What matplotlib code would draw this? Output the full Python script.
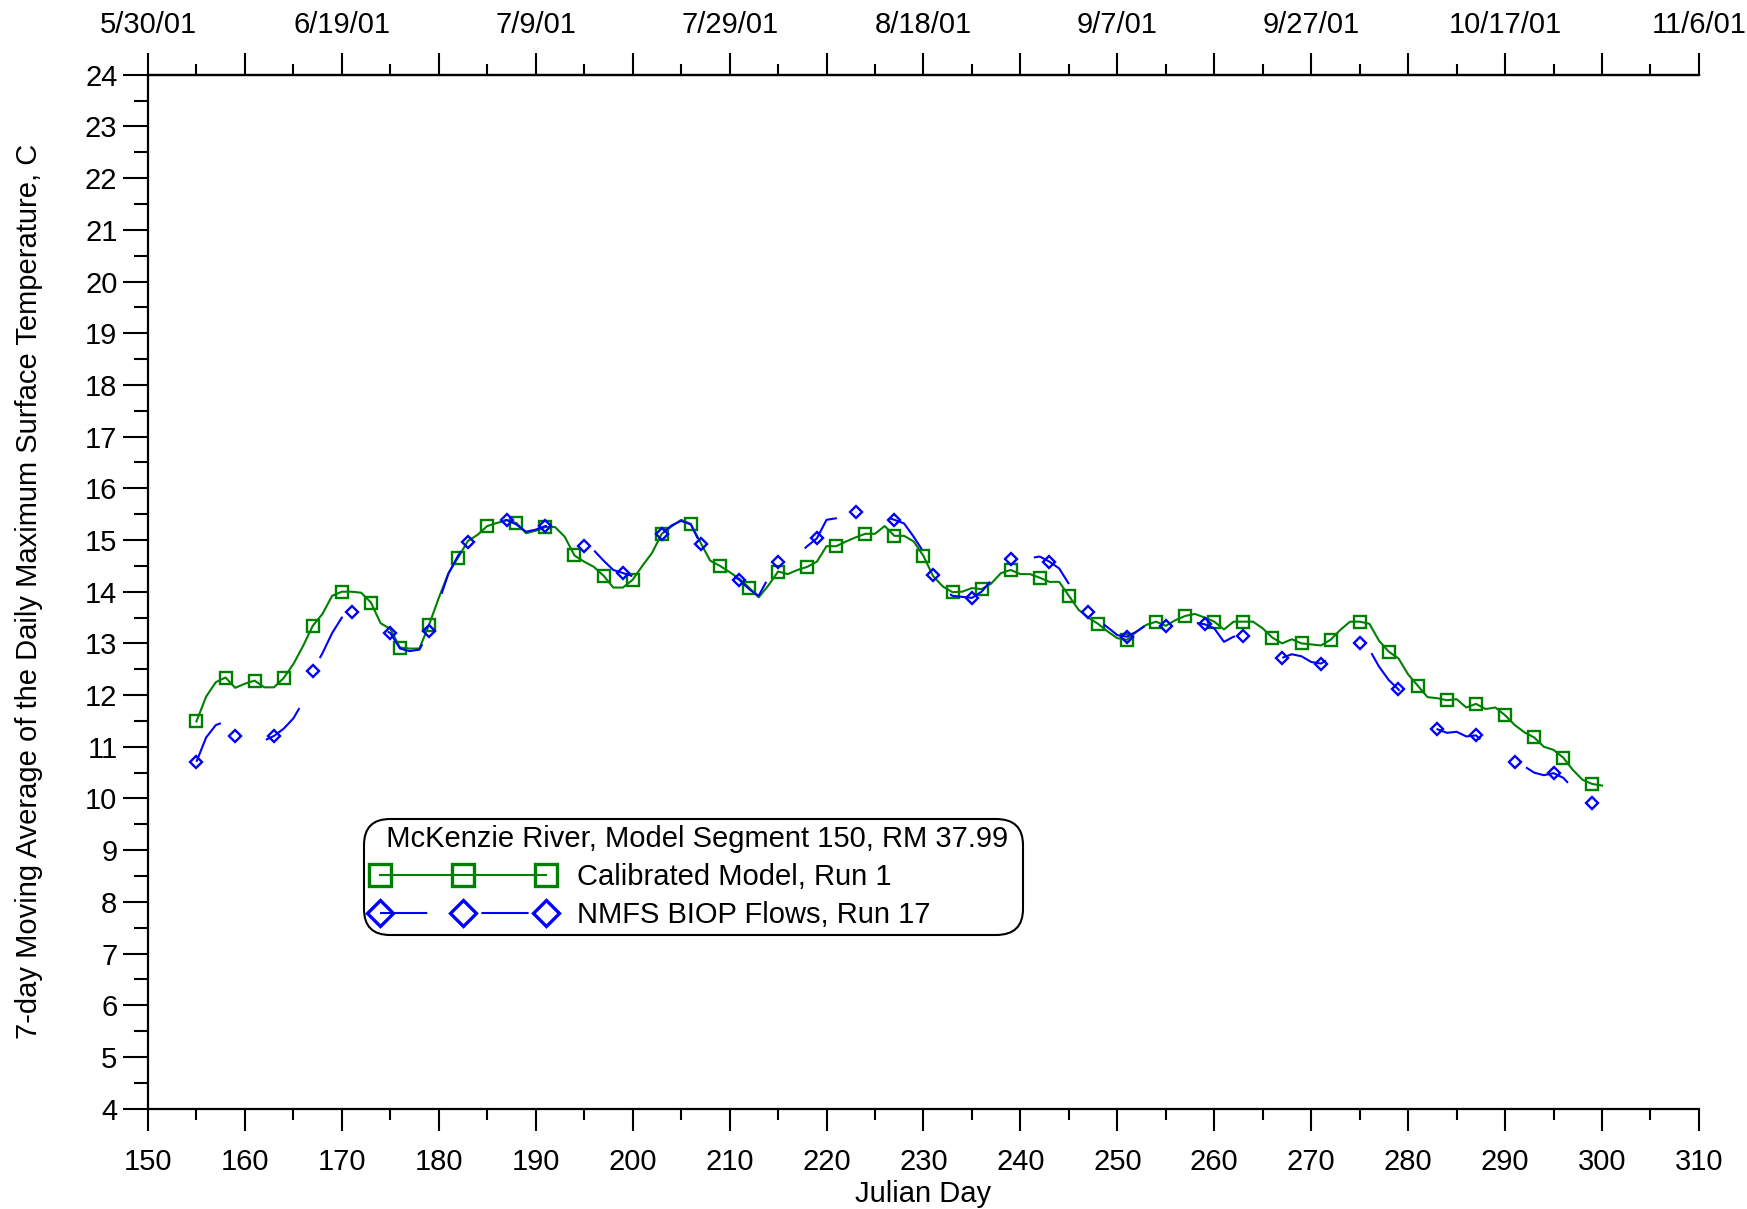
import numpy as np
import matplotlib
matplotlib.use('Agg')
import matplotlib.pyplot as plt
from matplotlib.lines import Line2D
from matplotlib.legend_handler import HandlerLine2D
from matplotlib.ticker import MultipleLocator

plt.rcParams['font.family'] = ['Liberation Sans', 'DejaVu Sans']
plt.rcParams['lines.scale_dashes'] = False

# Calibrated model, run 1 (daily, julian day 155-300)
model_days = list(range(155, 301))
model_temp = [
    11.49, 11.97, 12.25, 12.34, 12.14, 12.22, 12.28, 12.15, 12.15, 12.33,
    12.60, 12.95, 13.34, 13.57, 13.92, 14.00, 14.00, 13.98, 13.79, 13.39,
    13.28, 12.92, 12.90, 12.90, 13.36, 13.88, 14.36, 14.66, 14.98, 15.10,
    15.27, 15.33, 15.38, 15.33, 15.13, 15.18, 15.25, 15.25, 15.06, 14.70,
    14.58, 14.48, 14.31, 14.08, 14.08, 14.23, 14.50, 14.75, 15.12, 15.26,
    15.39, 15.31, 14.95, 14.60, 14.50, 14.38, 14.25, 14.08, 13.89, 14.12,
    14.39, 14.34, 14.42, 14.48, 14.58, 14.88, 14.88, 14.97, 15.05, 15.12,
    15.12, 15.27, 15.08, 15.08, 14.97, 14.69, 14.30, 14.10, 13.99, 14.00,
    14.07, 14.05, 14.16, 14.36, 14.42, 14.34, 14.34, 14.27, 14.19, 14.19,
    13.92, 13.65, 13.50, 13.38, 13.23, 13.10, 13.07, 13.23, 13.36, 13.42,
    13.34, 13.45, 13.53, 13.57, 13.50, 13.42, 13.27, 13.42, 13.42, 13.42,
    13.29, 13.11, 13.00, 13.08, 13.00, 12.98, 12.96, 13.07, 13.26, 13.42,
    13.42, 13.38, 13.05, 12.84, 12.71, 12.40, 12.18, 11.96, 11.94, 11.90,
    11.92, 11.76, 11.83, 11.73, 11.76, 11.61, 11.42, 11.28, 11.18, 11.00,
    10.94, 10.79, 10.55, 10.36, 10.28, 10.25]

# NMFS BIOP flows, run 17 (daily, julian day 155-299)
biop_days = list(range(155, 300))
biop_temp = [
    10.71, 11.18, 11.42, 11.49, 11.21, 11.15, 11.10, 11.12, 11.21, 11.35,
    11.55, 11.87, 12.47, 12.81, 13.20, 13.50, 13.61, 13.60, 13.55, 13.30,
    13.20, 12.90, 12.85, 12.88, 13.23, 13.80, 14.35, 14.70, 14.97, 15.12,
    15.25, 15.33, 15.39, 15.30, 15.16, 15.20, 15.27, 15.25, 15.10, 14.95,
    14.88, 14.80, 14.60, 14.42, 14.36, 14.30, 14.55, 14.85, 15.12, 15.28,
    15.37, 15.30, 14.92, 14.60, 14.45, 14.35, 14.23, 14.05, 13.92, 14.27,
    14.58, 14.60, 14.70, 14.88, 15.03, 15.39, 15.42, 15.50, 15.55, 15.50,
    15.45, 15.45, 15.39, 15.32, 15.06, 14.77, 14.32, 14.05, 13.92, 13.90,
    13.88, 14.00, 14.22, 14.45, 14.63, 14.60, 14.65, 14.68, 14.58, 14.45,
    14.15, 13.85, 13.61, 13.45, 13.31, 13.16, 13.13, 13.23, 13.36, 13.40,
    13.34, 13.40, 13.42, 13.40, 13.37, 13.29, 13.03, 13.13, 13.15, 13.00,
    12.85, 12.75, 12.72, 12.79, 12.75, 12.64, 12.61, 12.72, 12.85, 12.98,
    13.00, 12.88, 12.55, 12.29, 12.11, 11.85, 11.60, 11.42, 11.34, 11.27,
    11.29, 11.20, 11.22, 11.05, 10.90, 10.78, 10.71, 10.62, 10.50, 10.45,
    10.49, 10.40, 10.20, 10.05, 9.91]

top_ticks = list(range(150, 311, 10))
top_labels = ['5/30/01', '', '6/19/01', '', '7/9/01', '', '7/29/01', '',
              '8/18/01', '', '9/7/01', '', '9/27/01', '', '10/17/01', '', '11/6/01']

legend_title = 'McKenzie River, Model Segment 150, RM 37.99'
series_names = ['Calibrated Model, Run 1', 'NMFS BIOP Flows, Run 17']

GREEN = '#008000'
BLUE = '#0000ff'
FS = 21
DASH = (0, (34, 39))

fig = plt.figure(figsize=(17.47, 12.09), dpi=100)
ax = fig.add_axes([0.0847, 0.083, 0.8878, 0.8552])

ax.plot(model_days, model_temp, color=GREEN, lw=1.5, marker='s', ms=9,
        mfc='none', mec=GREEN, mew=1.7, markevery=3)
ax.plot(biop_days, biop_temp, color=BLUE, lw=1.5, ls=DASH, marker='D', ms=6.5,
        mfc='none', mec=BLUE, mew=1.7, markevery=4)

ax.set_xlim(150, 310)
ax.set_ylim(4, 24)
ax.xaxis.set_major_locator(MultipleLocator(10))
ax.xaxis.set_minor_locator(MultipleLocator(5))
ax.yaxis.set_major_locator(MultipleLocator(1))
ax.yaxis.set_minor_locator(MultipleLocator(0.5))
ax.tick_params(axis='x', which='major', length=16, width=1.5, pad=12.5, labelsize=FS)
ax.tick_params(axis='x', which='minor', length=8, width=1.5)
ax.tick_params(axis='y', which='major', length=18, width=1.5, pad=4, labelsize=FS)
ax.tick_params(axis='y', which='minor', length=10, width=1.5)
ax.spines['right'].set_visible(False)
for s in ['left', 'bottom', 'top']:
    ax.spines[s].set_linewidth(1.6)

ax.set_xlabel('Julian Day', fontsize=FS, labelpad=2.5)
ax.set_ylabel('7-day Moving Average of the Daily Maximum Surface Temperature, C',
              fontsize=FS, labelpad=30)

top = ax.twiny()
top.set_xlim(150, 310)
top.set_xticks(top_ticks)
top.set_xticklabels(top_labels)
top.xaxis.set_minor_locator(MultipleLocator(5))
top.tick_params(axis='x', which='major', length=16, width=1.5, pad=9.5, labelsize=FS)
top.tick_params(axis='x', which='minor', length=8, width=1.5)
for s in ['left', 'right', 'bottom']:
    top.spines[s].set_visible(False)
top.spines['top'].set_linewidth(1.6)

h1 = Line2D([], [], color=GREEN, lw=1.5, marker='s', ms=16, mfc='none', mec=GREEN, mew=2.4)
h2 = Line2D([], [], color=BLUE, lw=1.5, ls=DASH, marker='D', ms=13, mfc='none', mec=BLUE, mew=2.4)
leg = ax.legend([h1, h2], series_names, title='  ' + legend_title + ' ', loc='upper left',
                bbox_to_anchor=(0.139, 0.2805), borderaxespad=0, numpoints=3,
                handler_map={Line2D: HandlerLine2D(marker_pad=0.36)},
                handlelength=6.4, handletextpad=0.71, fontsize=FS, title_fontsize=FS,
                borderpad=0.22, labelspacing=0.34, alignment='left',
                frameon=True, fancybox=True, framealpha=1, edgecolor='black')
leg.get_frame().set_linewidth(1.5)
leg.get_frame().set_boxstyle('round', pad=0, rounding_size=0.9)

fig.savefig('out.png', dpi=100)
